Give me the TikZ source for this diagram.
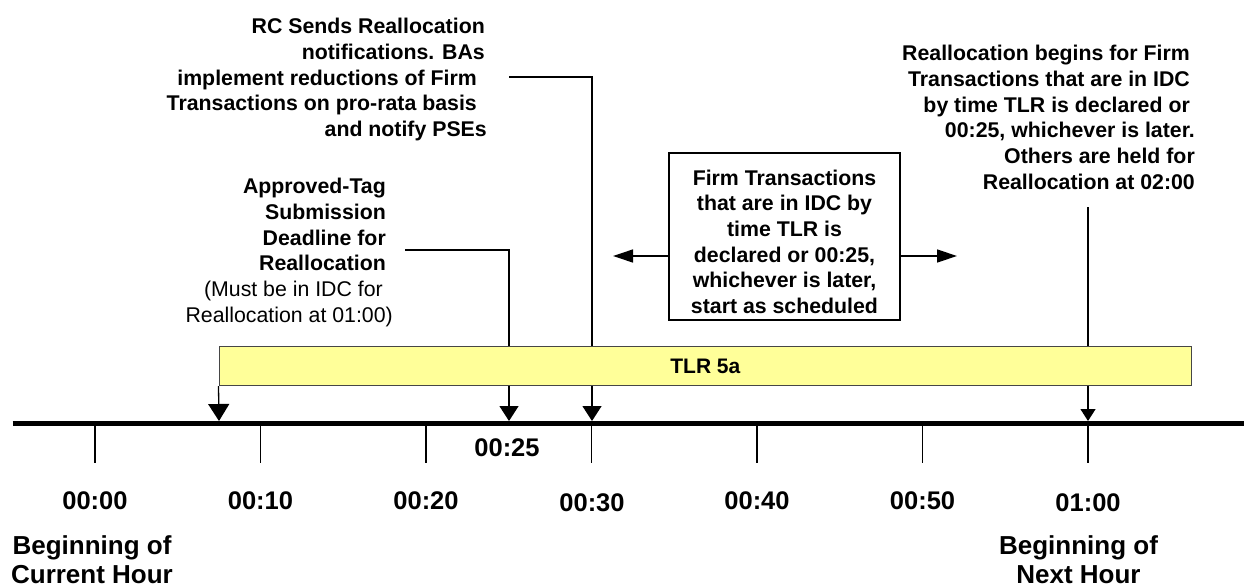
\documentclass[tikz,border=0pt]{standalone}
\usepackage{fontspec}
\setmainfont{Liberation Sans}
\usetikzlibrary{arrows.meta}
\definecolor{baryellow}{RGB}{255,255,153}
\definecolor{bargray}{RGB}{70,70,70}
\begin{document}
\begin{tikzpicture}[x=1pt,y=-1pt,
  lbl/.style={font=\bfseries\fontsize{21.3}{25.7}\selectfont, inner sep=0pt},
  timelbl/.style={font=\bfseries\fontsize{25.5}{30}\selectfont, inner sep=0pt, anchor=base},
  hourlbl/.style={font=\bfseries\fontsize{26}{29.5}\selectfont, inner sep=0pt, align=center, anchor=north},
  conn/.style={line width=1.3pt, draw=black},
  tickln/.style={line width=1.5pt},
  arrmid/.style={-{Triangle[length=15pt,width=19pt]}},
  arrbig/.style={-{Triangle[length=17pt,width=21pt]}},
  arrsmall/.style={-{Triangle[length=12pt,width=15pt]}},
  arrside/.style={-{Triangle[length=20pt,width=13pt]}},
  bar/.style={draw=bargray, line width=1pt, fill=baryellow, minimum width=972.7pt, minimum height=39pt, inner sep=0pt, font=\bfseries\fontsize{21}{25}\selectfont},
  boxst/.style={draw, line width=1.8pt, minimum width=231pt, minimum height=167pt, align=center}
]
\useasboundingbox (0,0) rectangle (1244,588);

% annotation texts
\node[lbl, align=right, anchor=north east] (rc) at (485,18)
  {RC Sends Reallocation\\notifications. BAs\\implement reductions of Firm\kern8pt\\Transactions on pro-rata basis\kern8pt\\and notify PSEs\kern-2pt};
\node[lbl, align=right, anchor=north east] (appr) at (386,178)
  {Approved-Tag\\Submission\\Deadline for\\Reallocation\\\mdseries (Must be in IDC for\kern3pt\\\mdseries Reallocation at 01:00)\kern-7pt};
\node[lbl, align=right, anchor=north east] (realloc) at (1195,45)
  {Reallocation begins for Firm\kern5pt\\Transactions that are in IDC\kern5pt\\by time TLR is declared or\kern5pt\\00:25, whichever is later.\\Others are held for\\Reallocation at 02:00};

% connector end points
\coordinate (a25) at (509,421);
\coordinate (a30) at (592,421);
\coordinate (a100) at (1088,421);
\coordinate (aleft) at (219,421);
\coordinate (approut) at (405,250);
\coordinate (rcout) at (509,77);
\coordinate (raout) at (1088,207);

\draw[conn, arrmid] (approut) -| (a25);
\draw[conn, arrmid] (rcout) -| (a30);
\draw[conn, arrsmall] (raout) -- (a100);

% TLR bar
\node[bar] (tlr) at (705.35,366.2) {TLR 5a};
\draw[conn, arrbig] (tlr.south west) -- (aleft);

% axis
\coordinate (axL) at (12.5,423.5);
\coordinate (axR) at (1244,423.5);
\draw[line width=5pt] (axL) -- (axR);
\foreach \x in {95,260.5,426,591.5,757,922.5,1088}
  \draw[tickln] (\x,423.5) -- (\x,463);

% time labels
\node[timelbl] (t00) at (95,509) {00:00};
\node[timelbl] (t10) at (260.5,509) {00:10};
\node[timelbl] (t20) at (426,509) {00:20};
\node[timelbl] (t25) at (507,456.5) {00:25};
\node[timelbl] (t30) at (592,511.5) {00:30};
\node[timelbl] (t40) at (757,509) {00:40};
\node[timelbl] (t50) at (922.5,509) {00:50};
\node[timelbl] (t60) at (1088,511.5) {01:00};

\node[hourlbl] (cur) at (92,535) {Beginning of\\Current Hour};
\node[hourlbl] (nxt) at (1078.5,535) {Beginning of\\Next Hour};

% central box
\node[boxst, lbl] (box) at (784.5,236.5)
  {\rule{0pt}{26pt}Firm Transactions\\that are in IDC by\\time TLR is\\declared or 00:25,\\whichever is later,\\start as scheduled};
\coordinate (bl) at (613,256);
\coordinate (br) at (957,256);
\draw[conn, arrside] (box.west |- bl) -- (bl);
\draw[conn, arrside] (box.east |- br) -- (br);
\end{tikzpicture}
\end{document}
